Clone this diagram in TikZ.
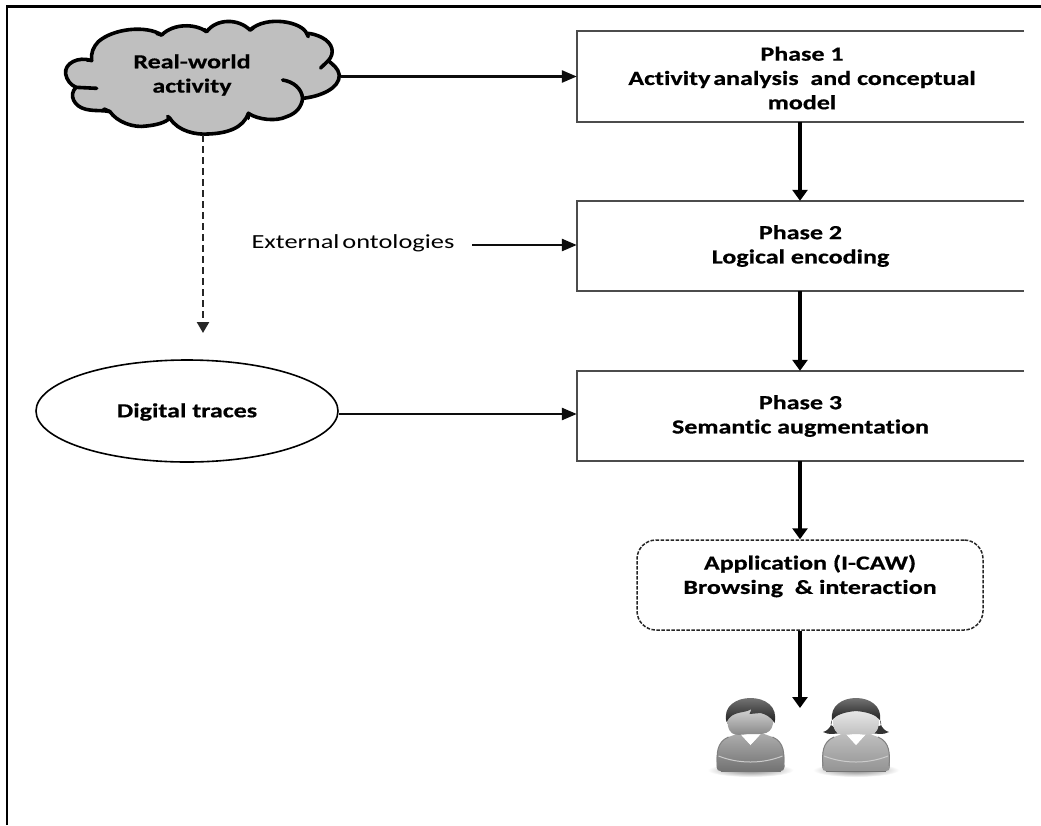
\documentclass[tikz,border=0pt]{standalone}
\usepackage{fontspec}
\setmainfont{Carlito}
\newfontfamily\wideb[FakeStretch=1.3,Ligatures=NoCommon,FakeBold=0.6]{Carlito Bold}
\newfontfamily\wider[FakeStretch=1.32,Ligatures=NoCommon]{Carlito}
\usetikzlibrary{arrows.meta,shapes.geometric}
\tikzset{
  x=1pt,y=-1pt,
  arrowline/.style={line width=2.6pt,-{Triangle[length=15pt,width=12pt]},black!95},
  downline/.style={line width=3.2pt,-{Triangle[length=11pt,width=15pt]},black},
  dashline/.style={line width=2.4pt,dash pattern=on 6.5pt off 4.5pt,-{Triangle[length=11pt,width=12pt]},black!85},
  boxarea/.style={minimum width=447pt,minimum height=90pt,inner sep=0pt,align=center,font=\lbl},
  boxedge/.style={line width=2.2pt,draw=black!70},
  outline/.style={line width=3.6pt,draw=black,line join=round,line cap=round},
}
\newcommand{\lbl}{\wideb\fontsize{20}{24.3}\selectfont}
\newcommand{\openbox}[1]{\draw[boxedge] (#1.north east) -- (#1.north west) -- (#1.south west) -- (#1.south east);}
\newcommand{\shirt}[2]{%
  \shade[inner color=black!50,outer color=white] (0,100) ellipse (43pt and 7pt);
  \path[top color=#1,bottom color=#2] (-34,97) .. controls (-34,84) and (-34,72) .. (-22,67) -- (-11,63) -- (0,75) -- (11,63) -- (22,67) .. controls (34,72) and (34,84) .. (34,97) .. controls (34,100) and (32,101) .. (30,101) -- (-30,101) .. controls (-32,101) and (-34,100) .. (-34,97) -- cycle;
  \fill[white] (-11,63) -- (0,75) -- (11,63) -- cycle;
  \draw[black!20,line width=1pt] (-32,86) .. controls (-12,94) and (12,94) .. (32,86);
  \draw[black!50,line width=1pt] (-33,96) .. controls (-34,84) and (-34,72) .. (-22,67);
  \draw[black!50,line width=1pt] (33,96) .. controls (34,84) and (34,72) .. (22,67);
  \draw[black!55,line width=1pt] (-30,101) -- (30,101);
}
\begin{document}
\begin{tikzpicture}
\useasboundingbox (0,0) rectangle (1041,825);
\fill[white] (0,0) rectangle (1041,825);
% frame
\draw[line width=2.6pt] (7,825) -- (7,6.5) -- (1041,6.5);

% cloud outline
\begin{scope}[x=0.3333pt,y=-0.3333pt]
\path[fill=black!25,outline]
 (275,182) .. controls (235,168) and (192,190) .. (197,222)
 .. controls (200,240) and (212,255) .. (228,262)
 .. controls (205,285) and (222,320) .. (258,328)
 .. controls (285,334) and (310,330) .. (330,335)
 .. controls (350,365) and (400,385) .. (440,378)
 .. controls (470,375) and (495,368) .. (510,355)
 .. controls (535,395) and (590,405) .. (625,402)
 .. controls (680,400) and (730,385) .. (745,340)
 .. controls (775,360) and (830,365) .. (860,350)
 .. controls (890,340) and (905,320) .. (908,295)
 .. controls (960,290) and (1020,265) .. (1018,225)
 .. controls (1015,205) and (1000,195) .. (985,182)
 .. controls (1005,160) and (1000,130) .. (965,112)
 .. controls (950,105) and (935,100) .. (920,100)
 .. controls (905,65) and (800,45) .. (750,90)
 .. controls (715,55) and (650,55) .. (620,95)
 .. controls (585,70) and (520,70) .. (485,105)
 .. controls (440,75) and (340,85) .. (295,125)
 .. controls (280,140) and (272,160) .. (275,182) -- cycle;
\draw[outline] (228,262) -- (290,265);
\draw[outline] (330,335) -- (312,327);
\draw[outline] (908,295) .. controls (905,265) and (880,245) .. (848,240);
\draw[outline] (985,182) -- (962,204);
\draw[outline] (510,355) -- (503,349);
\draw[outline] (745,340) -- (745,355);
\draw[outline] (485,105) -- (470,100);
\draw[outline] (620,95) -- (612,88);
\draw[outline] (750,90) -- (760,84);
\draw[outline] (920,100) -- (925,110);
\draw[outline] (275,182) -- (262,182);
\end{scope}

% nodes
\node[inner sep=0pt,minimum width=276pt,minimum height=117pt] (cloud) at (203,76.5) {};
\node[font=\lbl,align=center,inner sep=0pt] (cloudtext) at (192,75) {Real-world\\activity};
\node[boxarea] (p1) at (800.5,76.5) {};
\node[font=\lbl,align=center,inner sep=0pt] (p1text) at (802,78) {Phase 1\\Activity\hspace{-3pt} analysis\ \ and conceptual\\model};
\node[boxarea] (p2) at (800.5,246) {Phase 2\\Logical encoding};
\node[boxarea] (p3) at (800.5,416) {Phase 3\\Semantic augmentation};
\openbox{p1}\openbox{p2}\openbox{p3}
\node[draw=black!85,line width=1.5pt,dash pattern=on 3.5pt off 1.5pt,rounded corners=19pt,minimum width=346pt,minimum height=90pt,inner sep=0pt] (app) at (810,585) {};
\node[font=\lbl,align=center,inner sep=0pt] (apptext) at (810,576) {Application (I-CAW)\\Browsing\ \ \& interaction};
\node[ellipse,draw=black,line width=1.6pt,minimum width=302pt,minimum height=102pt,inner sep=0pt] (traces) at (187,411) {};
\node[font=\lbl,inner sep=0pt] (tracestext) at (187,412) {Digital traces};
\node[font=\wider\fontsize{20}{24}\selectfont,inner sep=0pt] (ext) at (353,243) {External\hspace{-3pt} ontologies};
\coordinate (extout) at (472,245);
\coordinate (dashend) at (203,333);
\coordinate (users) at (800,708);

% connectors
\draw[arrowline] (cloud.east) -- (p1.west);
\draw[dashline] (cloud.south) -- (dashend);
\draw[arrowline] (extout) -- (extout -| p2.west);
\draw[arrowline] ([yshift=-3pt]traces.east) -- ([yshift=-3pt]traces.east -| p3.west);
\draw[downline] (p1.south -| users) -- (p2.north -| users);
\draw[downline] (p2.south -| users) -- (p3.north -| users);
\draw[downline] (p3.south -| users) -- (app.north -| users);
\draw[downline] (app.south -| users) -- (users);

% man
\begin{scope}[shift={(750.5,670)}]
\shirt{black!32}{black!55}
\path[top color=black!10,bottom color=black!52] (-23,50) .. controls (-23,70) and (-10,64) .. (0,64) .. controls (12,64) and (23,66) .. (23,48) .. controls (23,36) and (12,32) .. (0,32) .. controls (-12,32) and (-23,36) .. (-23,50) -- cycle;
\path[top color=black!55,bottom color=black!88] (-24,52) .. controls (-28,36) and (-14,28) .. (0,28) .. controls (14,28) and (28,36) .. (24,53) .. controls (20,46) and (14,44) .. (10,43) -- (-1,44) -- (1,39) .. controls (-6,44) and (-18,40) .. (-24,52) -- cycle;
\end{scope}
% woman
\begin{scope}[shift={(856,670)}]
\shirt{black!25}{black!42}
\path[fill=black!80] (-24,50) .. controls (-27,56) and (-24,58) .. (-18,54) -- (-10,62) .. controls (-20,64) and (-28,65) .. (-33,62) .. controls (-26,60) and (-24,54) .. (-24,50) -- cycle;
\path[fill=black!80] (24,50) .. controls (27,56) and (24,58) .. (18,54) -- (10,62) .. controls (20,64) and (28,65) .. (33,62) .. controls (26,60) and (24,54) .. (24,50) -- cycle;
\path[top color=black!4,bottom color=black!28] (-23,50) .. controls (-23,70) and (-10,64) .. (0,64) .. controls (10,64) and (23,70) .. (23,50) .. controls (23,36) and (12,32) .. (0,32) .. controls (-12,32) and (-23,36) .. (-23,50) -- cycle;
\path[top color=black!55,bottom color=black!88] (-24,50) .. controls (-26,36) and (-14,28) .. (0,28) .. controls (14,28) and (26,36) .. (24,50) .. controls (20,45) and (12,42) .. (0,41) .. controls (-12,42) and (-20,45) .. (-24,50) -- cycle;
\end{scope}
\end{tikzpicture}
\end{document}
